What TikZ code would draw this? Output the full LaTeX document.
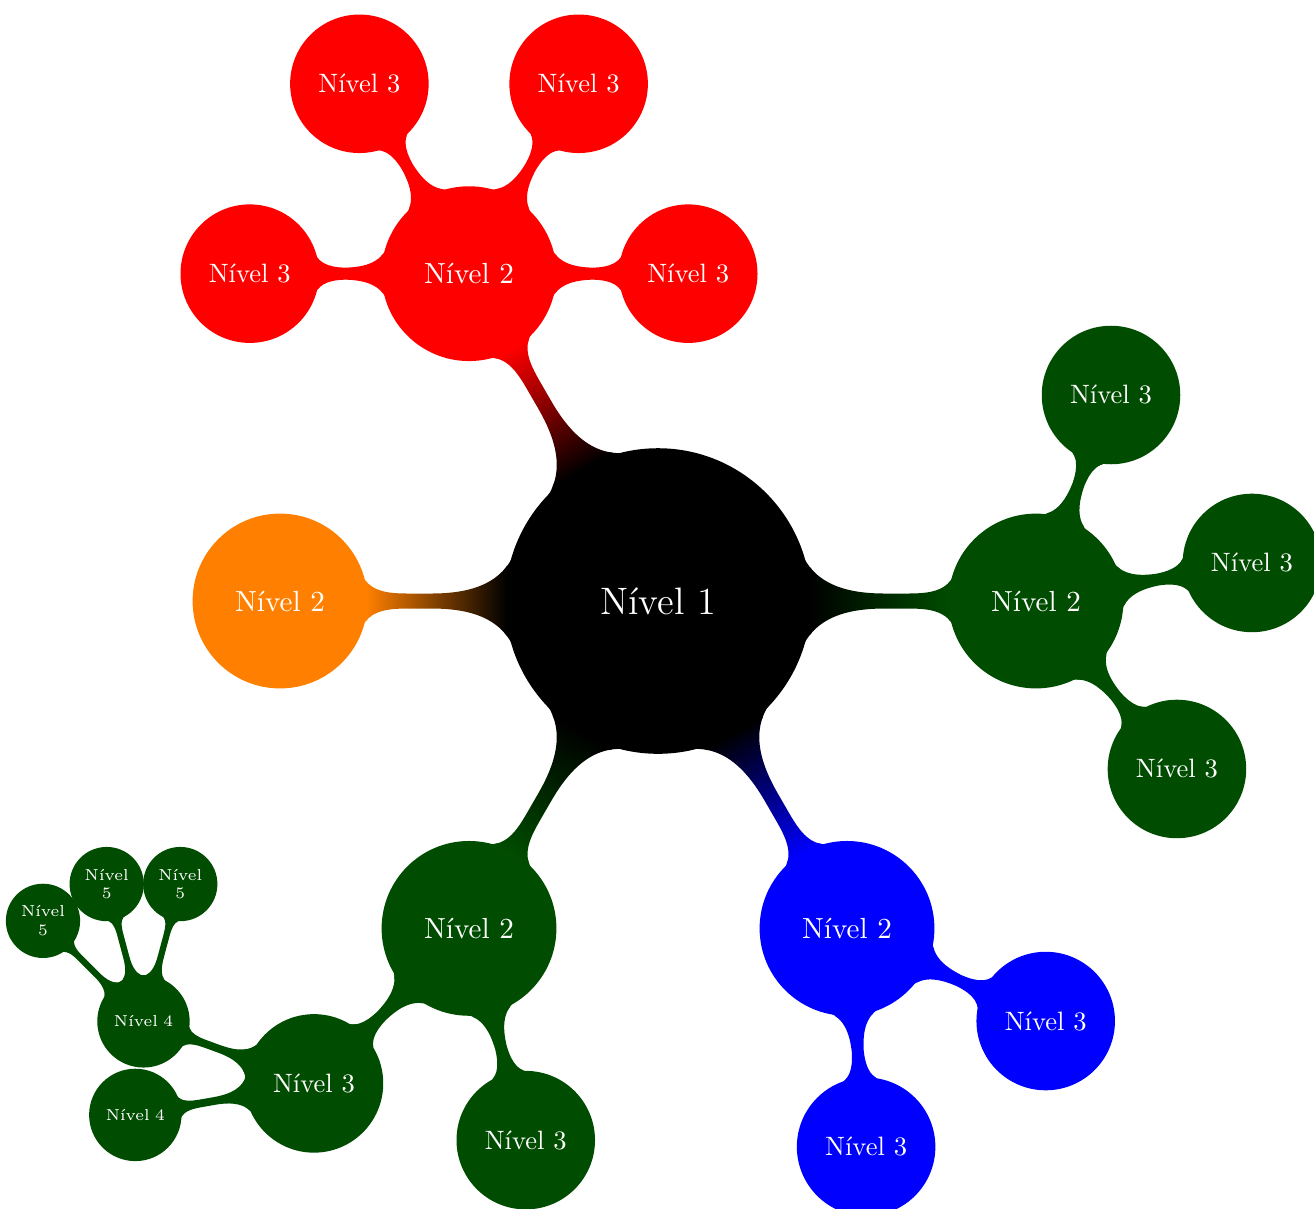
\documentclass[tikz,border=0pt]{standalone}
\usepackage{tikz}
\usetikzlibrary{mindmap,calc}
\definecolor{mmverde}{RGB}{0,76,0}
\tikzset{
  raiz/.style={
    concept,
    concept color=black,
    text=white,
    inner sep=0pt,
    align=center,
    minimum size=4cm,
    text width=3.5cm,
    font=\fontsize{14.4}{17}\selectfont
  },
  nivel2/.style={
    concept,
    text=white,
    inner sep=0pt,
    align=center,
    minimum size=2.27cm,
    text width=2cm,
    font=\fontsize{10.95}{13.6}\selectfont
  },
  nivel3/.style={
    concept,
    text=white,
    inner sep=0pt,
    align=center,
    minimum size=1.79cm,
    text width=1.5cm,
    font=\fontsize{10}{12}\selectfont
  },
  nivel4/.style={
    concept,
    text=white,
    inner sep=0pt,
    align=center,
    minimum size=1.18cm,
    text width=1cm,
    font=\fontsize{6}{7}\selectfont
  },
  nivel5/.style={
    concept,
    text=white,
    inner sep=0pt,
    align=center,
    minimum size=0.94cm,
    text width=0.65cm,
    font=\fontsize{6}{7}\selectfont
  },
  liga/.style args={#1/#2}{circle connection bar switch color=from (#1) to (#2)}
}

\begin{document}
\begin{tikzpicture}[mindmap]
  \useasboundingbox (-8.704,-8.029) rectangle (8.677,7.950);

  \node[raiz] (n1) at (0,0) {Nível 1};

  % ramo vermelho
  \node[nivel2,concept color=red] (v2) at (120:5) {Nível 2};
  \node[nivel3,concept color=red] (v3a) at ($(v2)+(180:2.9)$) {Nível 3};
  \node[nivel3,concept color=red] (v3b) at ($(v2)+(120:2.9)$) {Nível 3};
  \node[nivel3,concept color=red] (v3c) at ($(v2)+(60:2.9)$) {Nível 3};
  \node[nivel3,concept color=red] (v3d) at ($(v2)+(0:2.9)$) {Nível 3};

  % ramo verde da direita
  \node[nivel2,concept color=mmverde] (d2) at (0:5) {Nível 2};
  \node[nivel3,concept color=mmverde] (d3a) at ($(d2)+(70:2.9)$) {Nível 3};
  \node[nivel3,concept color=mmverde] (d3b) at ($(d2)+(10:2.9)$) {Nível 3};
  \node[nivel3,concept color=mmverde] (d3c) at ($(d2)+(-50:2.9)$) {Nível 3};

  % ramo azul
  \node[nivel2,concept color=blue] (a2) at (-60:5) {Nível 2};
  \node[nivel3,concept color=blue] (a3a) at ($(a2)+(-25:2.9)$) {Nível 3};
  \node[nivel3,concept color=blue] (a3b) at ($(a2)+(-85:2.9)$) {Nível 3};

  % ramo verde de baixo
  \node[nivel2,concept color=mmverde] (b2) at (-120:5) {Nível 2};
  \node[nivel3,concept color=mmverde] (b3a) at ($(b2)+(-135:2.9)$) {Nível 3};
  \node[nivel3,concept color=mmverde] (b3b) at ($(b2)+(-75:2.9)$) {Nível 3};
  \node[nivel4,concept color=mmverde] (b4a) at ($(b3a)+(160:2.4)$) {Nível 4};
  \node[nivel4,concept color=mmverde] (b4b) at ($(b3a)+(190:2.4)$) {Nível 4};
  \node[nivel5,concept color=mmverde] (b5a) at ($(b4a)+(135:1.88)$) {Nível 5};
  \node[nivel5,concept color=mmverde] (b5b) at ($(b4a)+(105:1.88)$) {Nível 5};
  \node[nivel5,concept color=mmverde] (b5c) at ($(b4a)+(75:1.88)$) {Nível 5};

  % ramo laranja
  \node[nivel2,concept color=orange] (l2) at (180:5) {Nível 2};

  % ligacoes
  \path (n1) to[liga=black/red] (v2);
  \path (n1) to[liga=black/mmverde] (d2);
  \path (n1) to[liga=black/blue] (a2);
  \path (n1) to[liga=black/mmverde] (b2);
  \path (n1) to[liga=black/orange] (l2);

  \path (v2) to[liga=red/red] (v3a);
  \path (v2) to[liga=red/red] (v3b);
  \path (v2) to[liga=red/red] (v3c);
  \path (v2) to[liga=red/red] (v3d);

  \path (d2) to[liga=mmverde/mmverde] (d3a);
  \path (d2) to[liga=mmverde/mmverde] (d3b);
  \path (d2) to[liga=mmverde/mmverde] (d3c);

  \path (a2) to[liga=blue/blue] (a3a);
  \path (a2) to[liga=blue/blue] (a3b);

  \path (b2) to[liga=mmverde/mmverde] (b3a);
  \path (b2) to[liga=mmverde/mmverde] (b3b);
  \path (b3a) to[liga=mmverde/mmverde] (b4a);
  \path (b3a) to[liga=mmverde/mmverde] (b4b);
  \path (b4a) to[liga=mmverde/mmverde] (b5a);
  \path (b4a) to[liga=mmverde/mmverde] (b5b);
  \path (b4a) to[liga=mmverde/mmverde] (b5c);
\end{tikzpicture}
\end{document}
